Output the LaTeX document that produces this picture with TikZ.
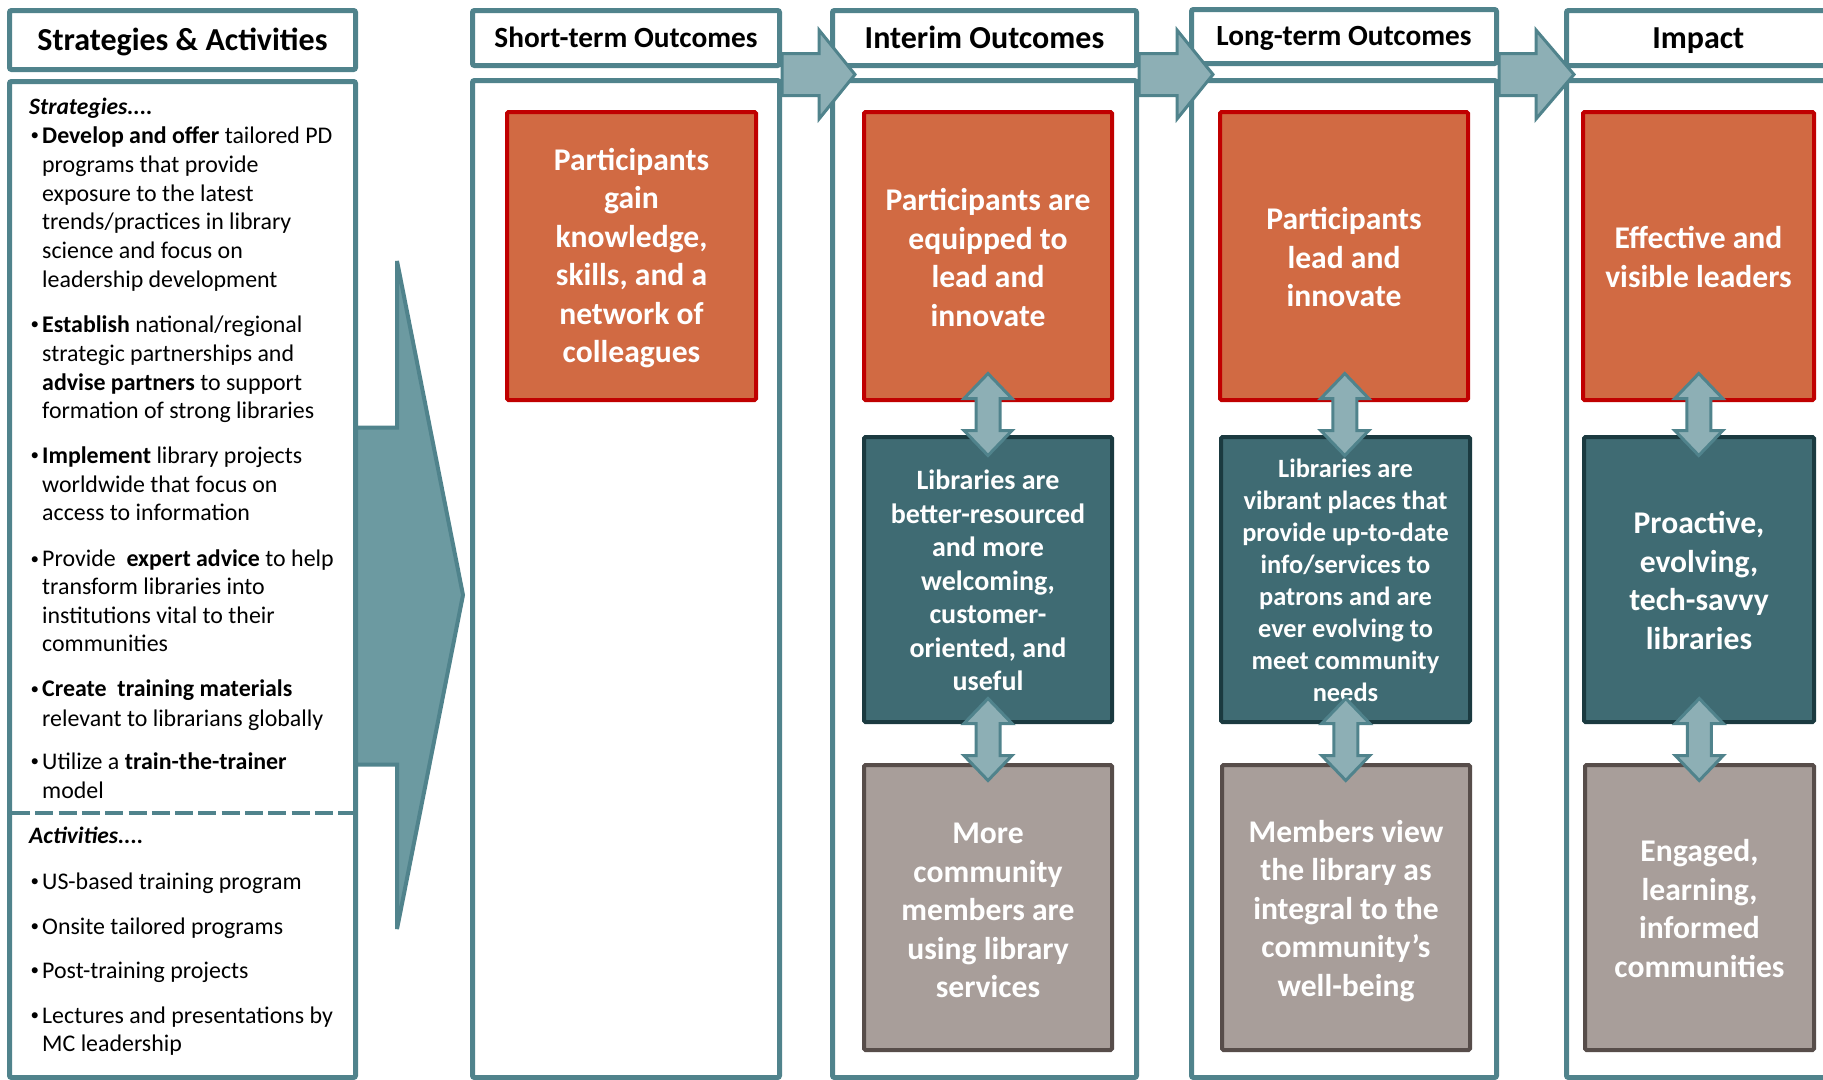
\documentclass[tikz,border=0pt]{standalone}
\usepackage{fontspec}
\setmainfont{Carlito}
\usetikzlibrary{calc}
\definecolor{colb}{RGB}{80,131,140}
\definecolor{bigfill}{RGB}{108,154,161}
\definecolor{smfill}{RGB}{141,175,181}
\definecolor{orfill}{RGB}{209,106,67}
\definecolor{ordraw}{RGB}{192,0,0}
\definecolor{tlfill}{RGB}{63,107,115}
\definecolor{tldraw}{RGB}{27,58,64}
\definecolor{gyfill}{RGB}{168,158,154}
\definecolor{gydraw}{RGB}{87,77,74}
\tikzset{
  colbox/.style={draw=colb, line width=5pt, fill=white, rounded corners=2pt},
  hdr/.style={draw=colb, line width=5pt, fill=white, rounded corners=2pt, inner sep=0pt,
    font=\bfseries\fontsize{32}{38}\selectfont, text height=20.6pt, text depth=0pt},
  hdrsm/.style={hdr, font=\bfseries\fontsize{29.3}{35}\selectfont, text height=18.9pt},
  obox/.style={draw=ordraw, fill=orfill, line width=4pt, rounded corners=1.5pt, inner sep=0pt},
  tbox/.style={draw=tldraw, fill=tlfill, line width=4pt, rounded corners=1.5pt, inner sep=0pt},
  gbox/.style={draw=gydraw, fill=gyfill, line width=4pt, rounded corners=1.5pt, inner sep=0pt},
  btxt/.style={text=white, align=center, inner sep=0pt, font=\bfseries\fontsize{31.6}{38.5}\selectfont},
  btxtm/.style={btxt, font=\bfseries\fontsize{28}{33.5}\selectfont},
  btxts/.style={btxt, font=\bfseries\fontsize{26.4}{32}\selectfont},
  bigarr/.style={draw=colb, line width=4pt, fill=bigfill, line join=miter},
  colarr/.style={draw=colb, line width=3pt, fill=smfill, line join=miter},
  dblarr/.style={draw=colb, line width=3pt, fill=smfill, line join=miter},
  lt/.style={inner sep=0pt, anchor=base west, font=\fontsize{23.9}{29}\selectfont},
  bt/.style={inner sep=0pt, anchor=base west, font=\fontsize{17}{20}\selectfont},
  lth/.style={lt, font=\bfseries\itshape\fontsize{23.5}{29}\selectfont}
}
% name, box style, text style, cx, cy, w, h, text shift, text
\newcommand\outbox[9]{\node[#2, minimum width=#6pt, minimum height=#7pt] (#1) at (#4,#5) {};
  \node[#3] (#1t) at ($(#1.center)+(0,#8)$) {#9};}
\newcommand\bul[3]{\node[bt] (#1b) at (30.5,#2-2.5) {\textbullet}; \node[lt] (#1) at (42,#2) {#3};}
\newcommand\cont[3]{\node[lt] (#1) at (42,#2) {#3};}
\newcommand\dbl[2]{\draw[dblarr] ($(#1.south)!0.5!(#2.north)+(0,-45)$) -- ++(24,25) -- ++(-12,0) -- ++(0,32) -- ++(12,0) -- ++(-24,25) -- ++(-24,-25) -- ++(12,0) -- ++(0,-32) -- ++(-12,0) -- cycle;}
\begin{document}
\begin{tikzpicture}[x=1pt,y=-1pt]
\useasboundingbox (0,0) rectangle (1823,1079);
\clip (0,0) rectangle (1823,1079);
\fill[white] (0,0) rectangle (1823,1079);

% column frames
\draw[colbox] (9.5,81.5) rectangle (355.5,1077.5);
\draw[colbox] (472.5,80.5) rectangle (779.5,1077.5);
\draw[colbox] (832.5,80.5) rectangle (1136.5,1077.5);
\draw[colbox] (1191.5,80.5) rectangle (1496.5,1077.5);
\draw[colbox] (1566.5,80.5) rectangle (1830,1077.5);
\draw[colb, line width=4pt, dash pattern=on 18pt off 5.3pt] (12,813) -- (353,813);

% headers
\node[hdr, minimum width=346pt, minimum height=59pt] (hsa) at (182.5,40) {Strategies \& Activities};
\node[hdrsm, minimum width=307pt, minimum height=55pt] (hst) at (626,38) {Short-term Outcomes};
\node[hdr, minimum width=304pt, minimum height=55pt] (hin) at (984.5,38) {Interim Outcomes};
\node[hdrsm, minimum width=305pt, minimum height=54pt] (hlt) at (1344,36.5) {Long-term Outcomes};
\node[hdr, minimum width=263.5pt, minimum height=55pt] (him) at (1698.25,38) {Impact};

% left text
\node[lth] (strat) at (29,114.3) {Strategies....};
\bul{s1}{143}{\textbf{Develop and offer} tailored PD}
\cont{s1a}{172}{programs that provide}
\cont{s1c}{201}{exposure to the latest}
\cont{s1d}{229.7}{trends/practices in library}
\cont{s1e}{258.3}{science and focus on}
\cont{s1f}{287}{leadership development}
\bul{s2}{332.3}{\textbf{Establish} national/regional}
\cont{s2a}{361}{strategic partnerships and}
\cont{s2c}{390}{\textbf{advise partners} to support}
\cont{s2d}{418.3}{formation of strong libraries}
\bul{s3}{463.3}{\textbf{Implement} library projects}
\cont{s3a}{492.3}{worldwide that focus on}
\cont{s3c}{520.7}{access to information}
\bul{s4}{566.7}{Provide~ \textbf{expert advice} to help}
\cont{s4a}{594.7}{transform libraries into}
\cont{s4c}{623.3}{institutions vital to their}
\cont{s4d}{651.7}{communities}
\bul{s5}{696.7}{\textbf{Create~ training materials}}
\cont{s5a}{726}{relevant to librarians globally}
\bul{s6}{769.3}{Utilize a \textbf{train-the-trainer}}
\cont{s6a}{798.3}{model}
\node[lth] (activ) at (29,843.3) {Activities....};
\bul{a1}{889}{US-based training program}
\bul{a2}{934}{Onsite tailored programs}
\bul{a3}{978.3}{Post-training projects}
\bul{a4}{1023.3}{Lectures and presentations by}
\cont{a4a}{1051.7}{MC leadership}

% outcome boxes
\outbox{so}{obox}{btxt}{631.5}{256}{249}{288}{2}{Participants\\gain\\knowledge,\\skills, and a\\network of\\colleagues}
\outbox{io}{obox}{btxt}{988}{256}{248}{288}{1.5}{Participants are\\equipped to\\lead and\\innovate}
\outbox{it}{tbox}{btxtm}{988}{579.5}{248}{285}{1}{Libraries are\\better-resourced\\and more\\welcoming,\\customer-\\oriented, and\\useful}
\outbox{ig}{gbox}{btxt}{988}{907.5}{248}{285}{3}{More\\community\\members are\\using library\\services}
\outbox{lo}{obox}{btxt}{1344}{256}{248}{288}{1.5}{Participants\\lead and\\innovate}
\outbox{lt}{tbox}{btxts}{1345.5}{579.5}{249}{285}{1}{Libraries are\\vibrant places that\\provide up-to-date\\info/services to\\patrons and are\\ever evolving to\\meet community\\needs}
\outbox{lg}{gbox}{btxt}{1346}{907.5}{248}{285}{3.5}{Members view\\the library as\\integral to the\\community’s\\well-being}
\outbox{mo}{obox}{btxt}{1698.5}{256}{231}{288}{1}{Effective and\\visible leaders}
\outbox{mt}{tbox}{btxt}{1699}{579.5}{230}{285}{1}{Proactive,\\evolving,\\tech-savvy\\libraries}
\outbox{mg}{gbox}{btxt}{1699.5}{907.5}{229}{285}{1}{Engaged,\\learning,\\informed\\communities}

% double arrows
\dbl{io}{it}
\dbl{it}{ig}
\dbl{lo}{lt}
\dbl{lt}{lg}
\dbl{mo}{mt}
\dbl{mt}{mg}

% column arrows
\draw[colarr] (782,53.5) -- ++(37,0) -- ++(0,-23.5) -- ++(36,44.5) -- ++(-36,44.5) -- ++(0,-23.5) -- ++(-37,0) -- cycle;
\draw[colarr] (1139,53.5) -- ++(38,0) -- ++(0,-23.5) -- ++(36,44.5) -- ++(-36,44.5) -- ++(0,-23.5) -- ++(-38,0) -- cycle;
\draw[colarr] (1499,53.5) -- ++(37,0) -- ++(0,-23.5) -- ++(38,44.5) -- ++(-38,44.5) -- ++(0,-23.5) -- ++(-37,0) -- cycle;

% big arrow
\draw[bigarr] (356,427.5) -- (397,427.5) -- (397,261) -- (463,595) -- (397,929) -- (397,764.5) -- (356,764.5) -- cycle;
\end{tikzpicture}
\end{document}
